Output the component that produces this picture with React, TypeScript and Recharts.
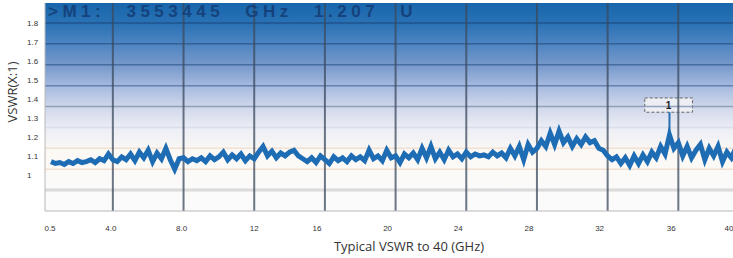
import { LineChart, Line, XAxis, YAxis, ReferenceLine, ReferenceArea } from 'recharts';

// sweep: 0.5 .. 40 GHz, one reading every 0.25 GHz
const sweepStart = 0.5;
const sweepStep = 0.25;

// VSWR readings taken off the analyzer trace
const vswr = [
  1.07, 1.06, 1.065, 1.055, 1.07, 1.06, 1.075, 1.065, 1.07, 1.08, 1.065, 1.085, 1.075, 1.11, 1.08,
  1.07, 1.095, 1.08, 1.11, 1.075, 1.12, 1.09, 1.13, 1.07, 1.115, 1.085, 1.14, 1.08, 1.03, 1.085, 1.09,
  1.07, 1.085, 1.075, 1.09, 1.07, 1.1, 1.08, 1.095, 1.12, 1.08, 1.105, 1.085, 1.11, 1.075, 1.1, 1.085,
  1.12, 1.15, 1.1, 1.125, 1.09, 1.115, 1.1, 1.12, 1.13, 1.1, 1.085, 1.07, 1.09, 1.065, 1.1, 1.08,
  1.06, 1.095, 1.075, 1.09, 1.07, 1.1, 1.08, 1.095, 1.075, 1.13, 1.085, 1.1, 1.075, 1.13, 1.09, 1.1,
  1.065, 1.11, 1.09, 1.115, 1.08, 1.14, 1.09, 1.15, 1.085, 1.12, 1.08, 1.13, 1.095, 1.11, 1.085, 1.12,
  1.095, 1.11, 1.1, 1.105, 1.095, 1.12, 1.1, 1.115, 1.09, 1.14, 1.1, 1.15, 1.08, 1.16, 1.12, 1.14,
  1.18, 1.15, 1.22, 1.16, 1.23, 1.17, 1.2, 1.15, 1.19, 1.16, 1.2, 1.17, 1.18, 1.14, 1.13,
  1.1, 1.08, 1.095, 1.06, 1.09, 1.05, 1.1, 1.06, 1.105, 1.07, 1.12, 1.09, 1.15, 1.11, 1.21, 1.14,
  1.17, 1.1, 1.15, 1.09, 1.13, 1.16, 1.08, 1.14, 1.1, 1.15, 1.07, 1.12, 1.09, 1.14, 1.1, 1.13, 1.11,
];

const xTicks = [0.5, 4, 8, 12, 16, 20, 24, 28, 32, 36, 40];
const xTickLabels = ['0.5', '4.0', '8.0', '12', '16', '20', '24', '28', '32', '36', '40'];
const xTickNudge = [-1, -2, -2, 0, -8, -8, -8, -8, -8, -7, -20];
const yTicks = [1, 1.1, 1.2, 1.3, 1.4, 1.5, 1.6, 1.7, 1.8];
const yTickLabels = ['1', '1.1', '1.2', '1.3', '1.4', '1.5', '1.6', '1.7', '1.8'];

// analyzer screen graticule
const vGrid = [4, 8, 12, 16, 20, 24, 28, 32, 36];
const hGrid = [1.8, 1.69, 1.58, 1.47, 1.36, 1.25, 1.14, 1.03, 0.92];
const hGridColors = ['#1d4e86', '#2d5a90', '#3d6699', '#5a77a4', '#8595b4', '#d6dae6', '#f0dccd', '#f0dccd', '#d4d4d6'];

const marker = { freq: 35.5, value: 1.21, label: '1', readout: '>M1: 3553445 GHz 1.207 U' };

const data = vswr.map((v, i) => ({ f: sweepStart + i * sweepStep, v }));

const XTick = (props: any) => {
  const i = xTicks.indexOf(props.payload.value);
  return (
    <text x={props.x + (xTickNudge[i] ?? 0)} y={props.y + 12} textAnchor="middle" fontSize={8} fill="#333" fontFamily="'Liberation Sans', Arial, sans-serif">
      {xTickLabels[i]}
    </text>
  );
};

const YTick = (props: any) => {
  const i = yTicks.indexOf(props.payload.value);
  return (
    <text x={27} y={props.y + 3} textAnchor="start" fontSize={8} fill="#333" fontFamily="'Liberation Sans', Arial, sans-serif">
      {yTickLabels[i]}
    </text>
  );
};

export default function App() {
  return (
    <div style={{ position: 'absolute', left: 0, top: 0, width: 733, height: 258, overflow: 'hidden', background: '#fff' }}>
      <LineChart width={770} height={258} data={data} margin={{ top: 3, right: 21, left: 0, bottom: 0 }}>
        <defs>
          <linearGradient id="screen" x1="0" y1="0" x2="0" y2="1">
            <stop offset="0" stopColor="#1866ac" />
            <stop offset="0.1" stopColor="#2a72b5" />
            <stop offset="0.2" stopColor="#4f85c2" />
            <stop offset="0.3" stopColor="#7799cb" />
            <stop offset="0.4" stopColor="#a6badf" />
            <stop offset="0.5" stopColor="#cfd7ea" />
            <stop offset="0.6" stopColor="#eceef6" />
            <stop offset="0.72" stopColor="#fcf9f5" />
            <stop offset="1" stopColor="#fbfbfc" />
          </linearGradient>
        </defs>
        <ReferenceArea x1={0.16} x2={40} y1={0.81} y2={1.905} fill="url(#screen)" fillOpacity={1} stroke="none" ifOverflow="hidden" />
        {hGrid.map((g, i) => (
          <ReferenceLine key={'h' + g} y={g} stroke={hGridColors[i]} strokeWidth={i === 8 ? 3 : 1.5} strokeOpacity={0.85} />
        ))}
        {vGrid.map((g) => (
          <ReferenceLine key={'v' + g} x={g} stroke="#3b4a5e" strokeWidth={2} strokeOpacity={0.75} />
        ))}
        <XAxis
          dataKey="f"
          type="number"
          domain={[0.16, 40]}
          ticks={xTicks}
          allowDataOverflow
          height={47}
          tickLine={false}
          stroke="#b8b8b8"
          tick={<XTick />}
          interval={0}
        />
        <YAxis
          type="number"
          domain={[0.81, 1.905]}
          ticks={yTicks}
          allowDataOverflow
          width={45}
          tickLine={false}
          tickSize={0}
          stroke="#b8b8b8"
          tick={<YTick />}
          interval={0}
        />
        <ReferenceLine
          segment={[{ x: marker.freq, y: marker.value }, { x: marker.freq, y: 1.33 }]}
          stroke="#2a6db0"
          strokeWidth={2}
        />
        <ReferenceArea
          x1={34.1}
          x2={36.8}
          y1={1.33}
          y2={1.405}
          fill="#eceef3"
          fillOpacity={1}
          stroke="#666"
          strokeDasharray="3 2"
          label={{ value: marker.label, fontSize: 10, fontWeight: 700, fill: '#222', position: 'center', fontFamily: "'Liberation Sans', Arial, sans-serif" }}
        />
        <Line
          type="linear"
          dataKey="v"
          stroke="#1d6cb4"
          strokeWidth={5}
          strokeLinejoin="miter"
          dot={false}
          isAnimationActive={false}
        />
      </LineChart>
      <div
        style={{
          position: 'absolute',
          left: 48,
          top: 3,
          lineHeight: '18px',
          fontFamily: "'Liberation Sans', Arial, sans-serif",
          fontWeight: 700,
          fontSize: 17,
          letterSpacing: 4.5,
          wordSpacing: 12,
          color: '#143c74',
          opacity: 0.85,
          whiteSpace: 'pre',
        }}
      >
        {marker.readout}
      </div>
      <div
        style={{
          position: 'absolute',
          left: 12,
          top: 92,
          transform: 'translate(-50%, -50%) rotate(-90deg)',
          fontFamily: "'Open Sans', sans-serif",
          fontSize: 13,
          color: '#333',
          whiteSpace: 'nowrap',
        }}
      >
        VSWR(X:1)
      </div>
      <div
        style={{
          position: 'absolute',
          left: 409,
          top: 246,
          transform: 'translate(-50%, -50%)',
          fontFamily: "'Open Sans', sans-serif",
          fontSize: 13,
          color: '#333',
          whiteSpace: 'nowrap',
        }}
      >
        Typical VSWR to 40 (GHz)
      </div>
    </div>
  );
}
